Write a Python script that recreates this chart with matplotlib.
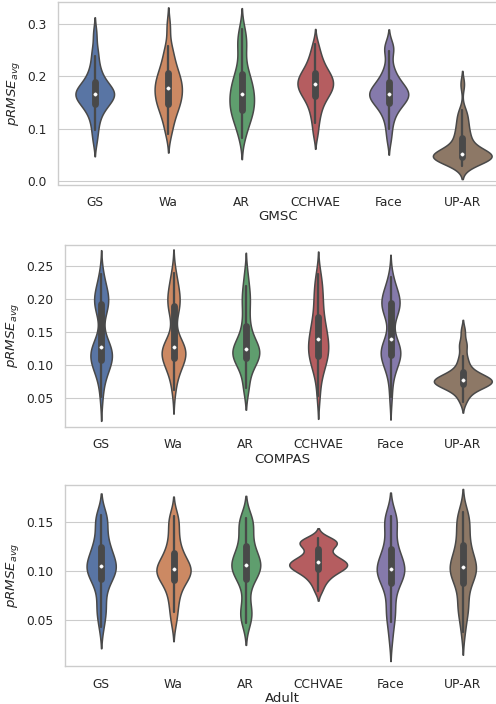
import matplotlib
matplotlib.use("Agg")
import matplotlib.pyplot as plt
from matplotlib.ticker import MultipleLocator
import seaborn as sns
import pandas as pd

methods = ["GS", "Wa", "AR", "CCHVAE", "Face", "UP-AR"]
datasets = ["GMSC", "COMPAS", "Adult"]

# pRMSE_avg samples per method, GMSC
gmsc_gs = [0.078, 0.098, 0.112, 0.124, 0.133, 0.139, 0.143, 0.147, 0.151, 0.155,
           0.158, 0.161, 0.163, 0.165, 0.166, 0.168, 0.170, 0.172, 0.175, 0.178,
           0.182, 0.186, 0.190, 0.196, 0.203, 0.212, 0.222, 0.238, 0.252, 0.282]
gmsc_wa = [0.090, 0.107, 0.119, 0.129, 0.137, 0.143, 0.148, 0.153, 0.158, 0.163,
           0.168, 0.173, 0.177, 0.181, 0.186, 0.191, 0.196, 0.201, 0.207, 0.214,
           0.222, 0.232, 0.244, 0.258, 0.296]
gmsc_ar = [0.082, 0.098, 0.109, 0.117, 0.123, 0.129, 0.134, 0.139, 0.144, 0.149,
           0.154, 0.159, 0.164, 0.169, 0.174, 0.179, 0.185, 0.191, 0.198, 0.206,
           0.214, 0.232, 0.252, 0.263, 0.275, 0.290]
gmsc_cchvae = [0.090, 0.110, 0.124, 0.135, 0.144, 0.151, 0.157, 0.162, 0.166, 0.170,
               0.173, 0.176, 0.179, 0.182, 0.185, 0.188, 0.191, 0.194, 0.197, 0.200,
               0.203, 0.207, 0.211, 0.216, 0.222, 0.229, 0.237, 0.247, 0.262]
gmsc_face = [0.080, 0.100, 0.115, 0.126, 0.134, 0.140, 0.144, 0.148, 0.152, 0.155,
             0.158, 0.161, 0.163, 0.165, 0.166, 0.168, 0.170, 0.173, 0.176, 0.179,
             0.183, 0.187, 0.191, 0.196, 0.203, 0.212, 0.224, 0.248, 0.254, 0.260]
gmsc_upar = [0.029, 0.033, 0.036, 0.039, 0.041, 0.043, 0.044, 0.045, 0.046, 0.047,
             0.048, 0.049, 0.050, 0.050, 0.051, 0.052, 0.054, 0.057, 0.061, 0.066,
             0.072, 0.078, 0.083, 0.090, 0.098, 0.106, 0.115, 0.125, 0.135, 0.185]

# COMPAS
compas_gs = [0.052, 0.075, 0.086, 0.093, 0.098, 0.102, 0.105, 0.108, 0.111, 0.114,
             0.117, 0.119, 0.121, 0.124, 0.127, 0.131, 0.136, 0.142, 0.176, 0.184,
             0.189, 0.193, 0.197, 0.200, 0.204, 0.209, 0.215, 0.224, 0.238]
compas_wa = [0.062, 0.080, 0.090, 0.097, 0.102, 0.106, 0.109, 0.112, 0.115, 0.118,
             0.120, 0.122, 0.124, 0.126, 0.128, 0.131, 0.135, 0.142, 0.174, 0.183,
             0.189, 0.194, 0.199, 0.204, 0.210, 0.218, 0.228, 0.240]
compas_ar = [0.065, 0.068, 0.088, 0.097, 0.102, 0.106, 0.109, 0.112, 0.115, 0.117,
             0.119, 0.121, 0.123, 0.125, 0.127, 0.130, 0.134, 0.139, 0.146, 0.155,
             0.165, 0.178, 0.192, 0.200, 0.208, 0.220, 0.238]
compas_cchvae = [0.053, 0.078, 0.090, 0.098, 0.104, 0.109, 0.113, 0.117, 0.121, 0.125,
                 0.129, 0.133, 0.137, 0.141, 0.146, 0.151, 0.157, 0.163, 0.169, 0.175,
                 0.188, 0.196, 0.205, 0.215, 0.226, 0.238]
compas_face = [0.052, 0.078, 0.092, 0.100, 0.105, 0.109, 0.112, 0.115, 0.118, 0.120,
               0.122, 0.125, 0.128, 0.132, 0.137, 0.143, 0.172, 0.178, 0.182, 0.186,
               0.189, 0.192, 0.195, 0.198, 0.201, 0.204, 0.208, 0.214, 0.222, 0.233]
compas_upar = [0.045, 0.053, 0.059, 0.063, 0.066, 0.068, 0.070, 0.071, 0.072, 0.073,
               0.074, 0.075, 0.075, 0.076, 0.077, 0.078, 0.079, 0.080, 0.081, 0.083,
               0.085, 0.087, 0.090, 0.094, 0.100, 0.107, 0.114, 0.128, 0.134, 0.152]

# Adult
adult_gs = [0.043, 0.055, 0.060, 0.066, 0.076, 0.084, 0.089, 0.092, 0.095, 0.098,
            0.100, 0.102, 0.103, 0.104, 0.106, 0.108, 0.111, 0.114, 0.117, 0.120,
            0.123, 0.127, 0.132, 0.138, 0.146, 0.152, 0.155, 0.157]
adult_wa = [0.048, 0.058, 0.066, 0.073, 0.079, 0.084, 0.088, 0.091, 0.093, 0.095,
            0.097, 0.099, 0.100, 0.101, 0.102, 0.104, 0.106, 0.108, 0.111, 0.114,
            0.117, 0.121, 0.126, 0.132, 0.139, 0.146, 0.153, 0.156]
adult_ar = [0.047, 0.052, 0.056, 0.060, 0.066, 0.080, 0.089, 0.093, 0.096, 0.099,
            0.101, 0.103, 0.104, 0.105, 0.107, 0.109, 0.111, 0.114, 0.117, 0.120,
            0.124, 0.129, 0.135, 0.141, 0.147, 0.150, 0.152, 0.154]
adult_cchvae = [0.080, 0.087, 0.091, 0.094, 0.097, 0.099, 0.100, 0.102, 0.103, 0.104,
                0.105, 0.106, 0.107, 0.108, 0.109, 0.110, 0.111, 0.113, 0.115, 0.117,
                0.121, 0.125, 0.127, 0.128, 0.129, 0.130, 0.131, 0.133]
adult_face = [0.032, 0.048, 0.055, 0.060, 0.068, 0.078, 0.085, 0.089, 0.092, 0.095,
              0.097, 0.099, 0.100, 0.101, 0.103, 0.105, 0.108, 0.111, 0.114, 0.117,
              0.121, 0.126, 0.133, 0.142, 0.149, 0.152, 0.154, 0.156]
adult_upar = [0.038, 0.052, 0.060, 0.064, 0.068, 0.078, 0.085, 0.089, 0.093, 0.096,
              0.098, 0.100, 0.102, 0.103, 0.105, 0.107, 0.110, 0.113, 0.117, 0.121,
              0.125, 0.130, 0.136, 0.142, 0.148, 0.152, 0.156, 0.160]

results = {
    "GMSC": [gmsc_gs, gmsc_wa, gmsc_ar, gmsc_cchvae, gmsc_face, gmsc_upar],
    "COMPAS": [compas_gs, compas_wa, compas_ar, compas_cchvae, compas_face, compas_upar],
    "Adult": [adult_gs, adult_wa, adult_ar, adult_cchvae, adult_face, adult_upar],
}
y_limits = {"GMSC": (-0.0067, 0.342), "COMPAS": (0.007, 0.282), "Adult": (0.0036, 0.187)}
y_steps = {"GMSC": 0.1, "COMPAS": 0.05, "Adult": 0.05}


def to_frame(samples):
    rows = []
    for m, vals in zip(methods, samples):
        for v in vals:
            rows.append((m, v))
    return pd.DataFrame(rows, columns=["method", "prmse"])


sns.set_theme(style="whitegrid", context="paper", palette="deep")

fig = plt.figure(figsize=(4.96, 7.04), dpi=100)
# axes boxes in figure pixels: left, top, right, bottom
boxes = [(58, 2, 499, 184.5), (65, 245, 499, 426.7), (65, 485, 499, 666)]

for name, (l, t, r, b) in zip(datasets, boxes):
    ax = fig.add_axes([l / 496, 1 - b / 704, (r - l) / 496, (b - t) / 704])
    df = to_frame(results[name])
    sns.violinplot(data=df, x="method", y="prmse", hue="method", order=methods,
                   hue_order=methods, palette="deep", legend=False, ax=ax,
                   common_norm=True, bw_adjust=0.7, linewidth=1.1,
                   inner_kws=dict(marker="o", markersize=2.4, markeredgewidth=0.3))
    ax.set_ylim(*y_limits[name])
    ax.yaxis.set_major_locator(MultipleLocator(y_steps[name]))
    ax.set_xlabel(name, labelpad=1)
    ax.set_ylabel("$pRMSE_{avg}$")

fig.savefig("out.png", dpi=100)
